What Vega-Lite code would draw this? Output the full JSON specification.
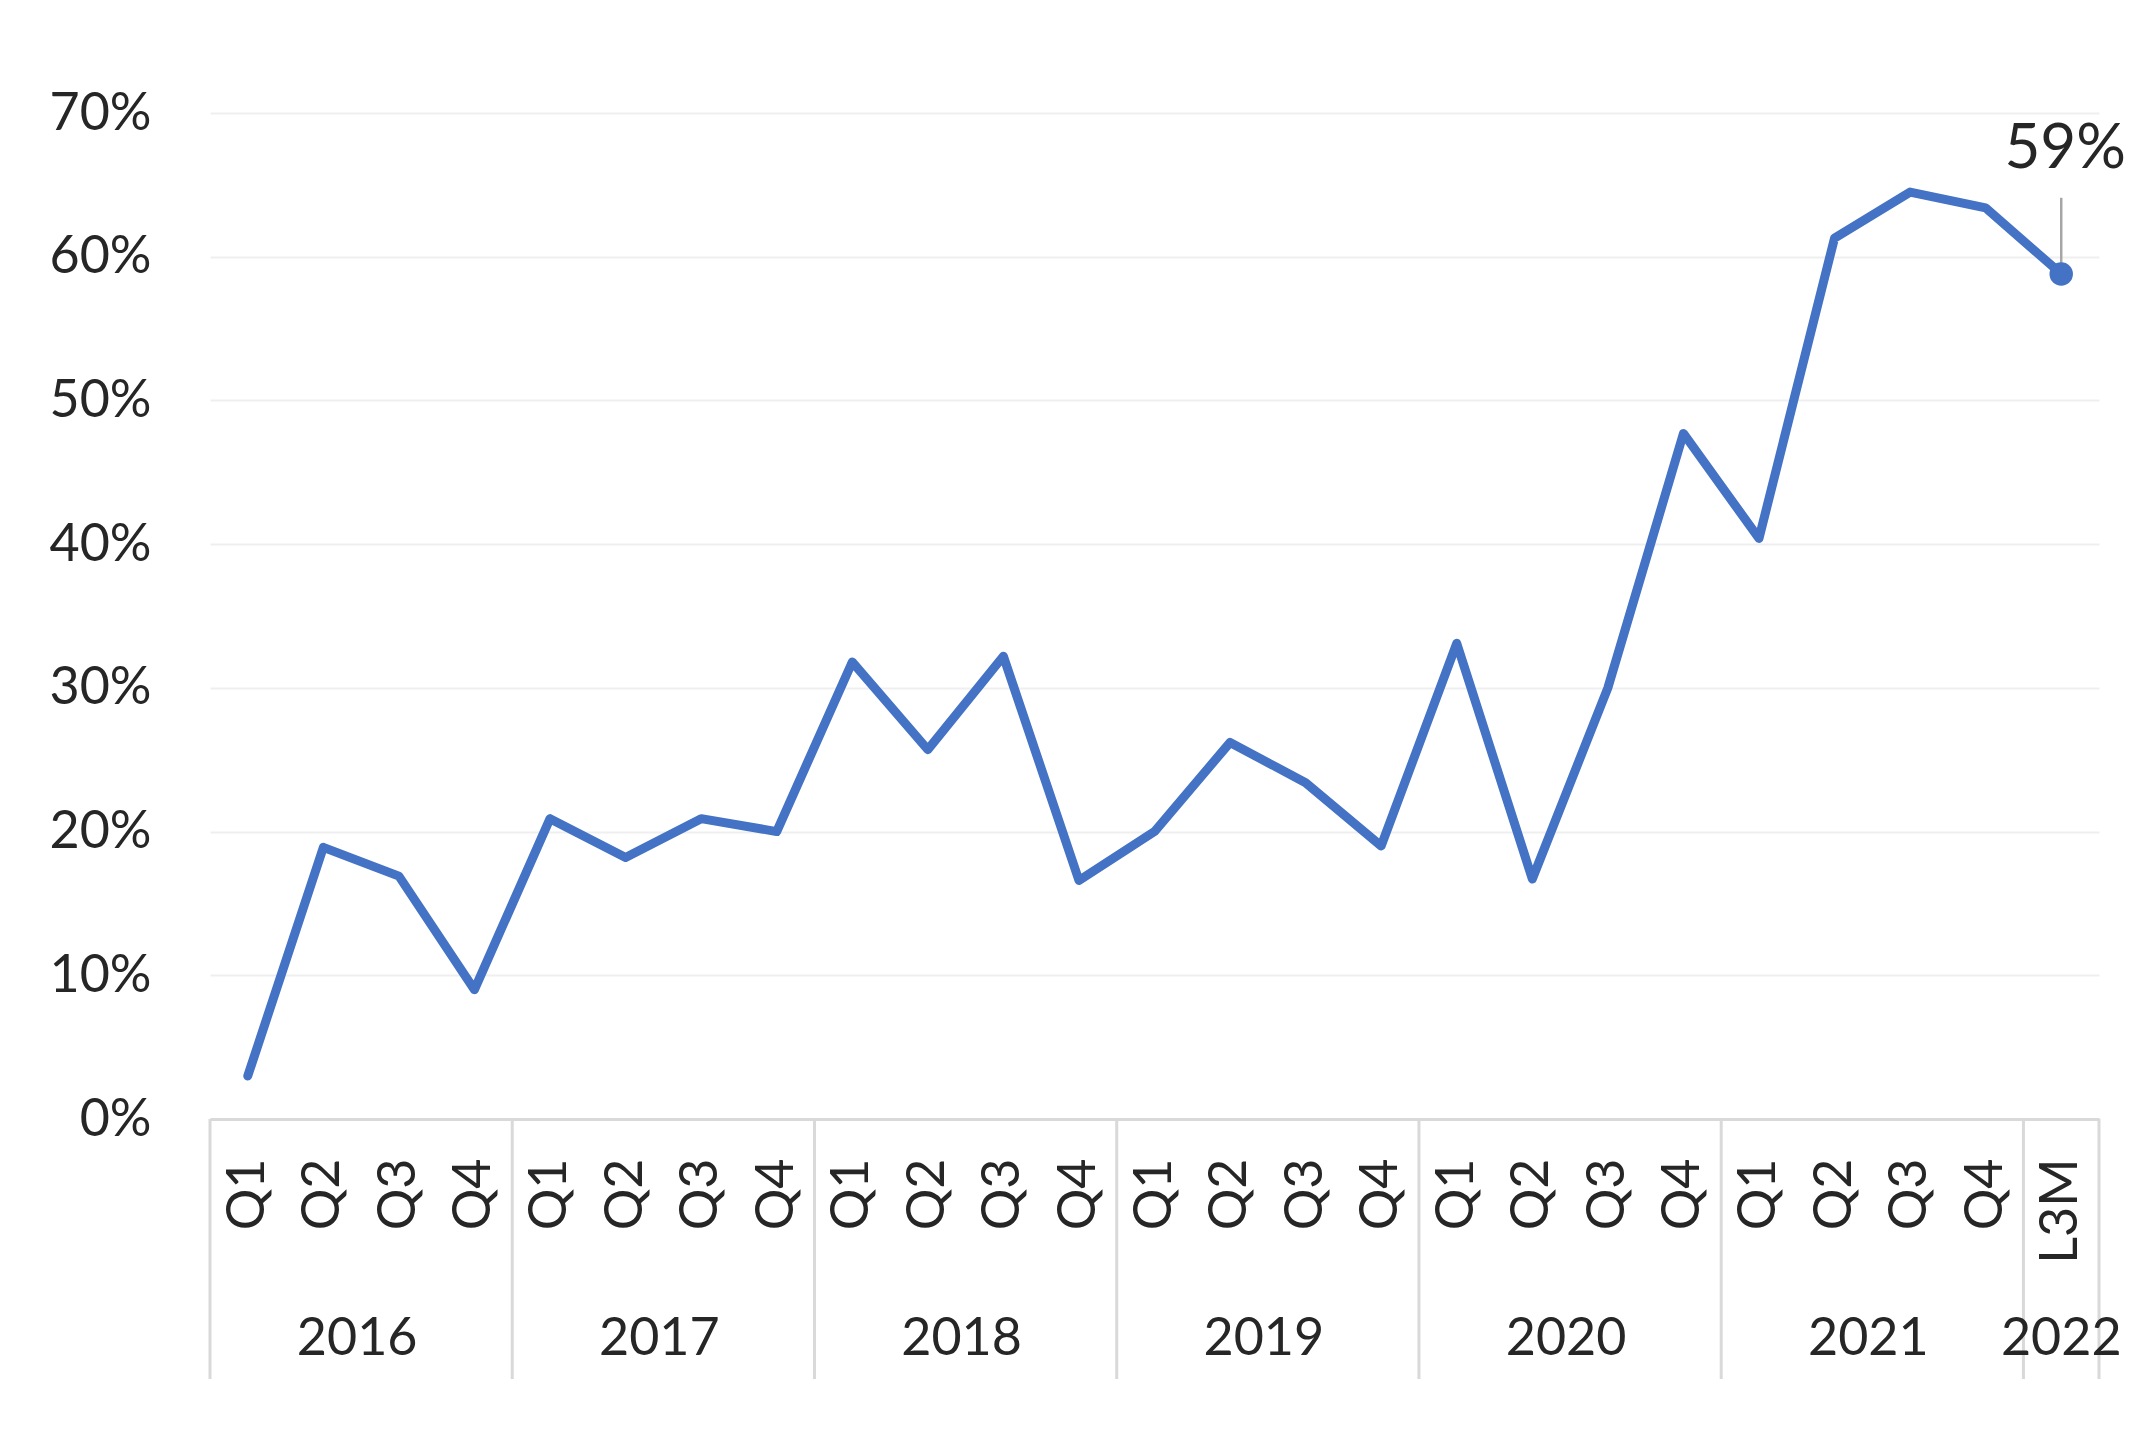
{
  "$schema": "https://vega.github.io/schema/vega-lite/v6.json",
  "autosize": {"type": "none"},
  "padding": {"left": 210, "top": 113, "right": 55, "bottom": 329},
  "width": 1889,
  "height": 1006,
  "background": "white",
  "config": {"view": {"stroke": null}, "font": "Lato"},
  "datasets": {
    "main": [
      {"key": "2016 Q1", "year": "2016", "q": "Q1", "v": 0.030},
      {"key": "2016 Q2", "year": "2016", "q": "Q2", "v": 0.189},
      {"key": "2016 Q3", "year": "2016", "q": "Q3", "v": 0.169},
      {"key": "2016 Q4", "year": "2016", "q": "Q4", "v": 0.090},
      {"key": "2017 Q1", "year": "2017", "q": "Q1", "v": 0.209},
      {"key": "2017 Q2", "year": "2017", "q": "Q2", "v": 0.182},
      {"key": "2017 Q3", "year": "2017", "q": "Q3", "v": 0.209},
      {"key": "2017 Q4", "year": "2017", "q": "Q4", "v": 0.200},
      {"key": "2018 Q1", "year": "2018", "q": "Q1", "v": 0.318},
      {"key": "2018 Q2", "year": "2018", "q": "Q2", "v": 0.257},
      {"key": "2018 Q3", "year": "2018", "q": "Q3", "v": 0.322},
      {"key": "2018 Q4", "year": "2018", "q": "Q4", "v": 0.166},
      {"key": "2019 Q1", "year": "2019", "q": "Q1", "v": 0.200},
      {"key": "2019 Q2", "year": "2019", "q": "Q2", "v": 0.262},
      {"key": "2019 Q3", "year": "2019", "q": "Q3", "v": 0.234},
      {"key": "2019 Q4", "year": "2019", "q": "Q4", "v": 0.190},
      {"key": "2020 Q1", "year": "2020", "q": "Q1", "v": 0.331},
      {"key": "2020 Q2", "year": "2020", "q": "Q2", "v": 0.167},
      {"key": "2020 Q3", "year": "2020", "q": "Q3", "v": 0.300},
      {"key": "2020 Q4", "year": "2020", "q": "Q4", "v": 0.477},
      {"key": "2021 Q1", "year": "2021", "q": "Q1", "v": 0.404},
      {"key": "2021 Q2", "year": "2021", "q": "Q2", "v": 0.613},
      {"key": "2021 Q3", "year": "2021", "q": "Q3", "v": 0.645},
      {"key": "2021 Q4", "year": "2021", "q": "Q4", "v": 0.634},
      {"key": "2022 L3M", "year": "2022", "q": "L3M", "v": 0.588}
    ]
  },
  "encoding": {
    "x": {
      "field": "key",
      "type": "nominal",
      "sort": null,
      "scale": {"type": "band", "paddingInner": 0, "paddingOuter": 0},
      "axis": {
        "title": null,
        "labelExpr": "split(datum.value, ' ')[1]",
        "labelAngle": -90,
        "labelPadding": 39,
        "labelFontSize": 52,
        "labelColor": "#262626",
        "labelFont": "Lato",
        "ticks": false,
        "domainColor": "#D9D9D9",
        "domainWidth": 3,
        "grid": false
      }
    }
  },
  "layer": [
    {
      "data": {"name": "main"},
      "mark": {"type": "line", "color": "#4472C4", "strokeWidth": 9, "strokeJoin": "round", "strokeCap": "round"},
      "encoding": {
        "y": {
          "field": "v",
          "type": "quantitative",
          "scale": {"domain": [0, 0.7], "nice": false, "zero": false},
          "axis": {
            "title": null,
            "values": [0, 0.1, 0.2, 0.3, 0.4, 0.5, 0.6, 0.7],
            "format": ".0%",
            "domain": false,
            "ticks": false,
            "grid": true,
            "gridColor": "#EFEFEF",
            "gridWidth": 2,
            "labelPadding": 59,
            "labelFontSize": 52,
            "labelColor": "#262626",
            "labelFont": "Lato"
          }
        }
      }
    },
    {
      "data": {"name": "main"},
      "transform": [{"filter": "datum.q === 'Q1' || datum.q === 'L3M'"}],
      "mark": {"type": "rule", "color": "#D9D9D9", "strokeWidth": 3},
      "encoding": {
        "x": {"field": "key", "type": "nominal", "bandPosition": 0},
        "y": {"datum": 0},
        "y2": {"datum": -0.181}
      }
    },
    {
      "data": {"name": "main"},
      "transform": [{"filter": "datum.q === 'L3M'"}],
      "mark": {"type": "rule", "color": "#D9D9D9", "strokeWidth": 3},
      "encoding": {
        "x": {"field": "key", "type": "nominal", "bandPosition": 1},
        "y": {"datum": 0},
        "y2": {"datum": -0.181}
      }
    },
    {
      "data": {"name": "main"},
      "transform": [{"filter": "datum.q === 'Q3'"}],
      "mark": {"type": "text", "fontSize": 52, "color": "#262626", "font": "Lato", "baseline": "middle", "align": "center", "dx": -4},
      "encoding": {
        "x": {"field": "key", "type": "nominal", "bandPosition": 0},
        "y": {"datum": -0.153},
        "text": {"field": "year"}
      }
    },
    {
      "data": {"name": "main"},
      "transform": [{"filter": "datum.q === 'L3M'"}],
      "mark": {"type": "text", "fontSize": 52, "color": "#262626", "font": "Lato", "baseline": "middle", "align": "center"},
      "encoding": {
        "x": {"field": "key", "type": "nominal", "bandPosition": 0.5},
        "y": {"datum": -0.153},
        "text": {"field": "year"}
      }
    },
    {
      "data": {"name": "main"},
      "transform": [{"filter": "datum.q === 'L3M'"}],
      "mark": {"type": "rule", "color": "#A6A6A6", "strokeWidth": 2.5},
      "encoding": {
        "y": {"field": "v", "type": "quantitative"},
        "y2": {"datum": 0.641}
      }
    },
    {
      "data": {"name": "main"},
      "transform": [{"filter": "datum.q === 'L3M'"}],
      "mark": {"type": "point", "filled": true, "color": "#4472C4", "opacity": 1, "size": 550},
      "encoding": {
        "y": {"field": "v", "type": "quantitative"}
      }
    },
    {
      "data": {"name": "main"},
      "transform": [{"filter": "datum.q === 'L3M'"}],
      "mark": {"type": "text", "fontSize": 62, "color": "#262626", "font": "Lato", "baseline": "middle", "align": "center", "dx": 4},
      "encoding": {
        "y": {"datum": 0.675},
        "text": {"field": "v", "type": "quantitative", "format": ".0%"}
      }
    }
  ]
}
